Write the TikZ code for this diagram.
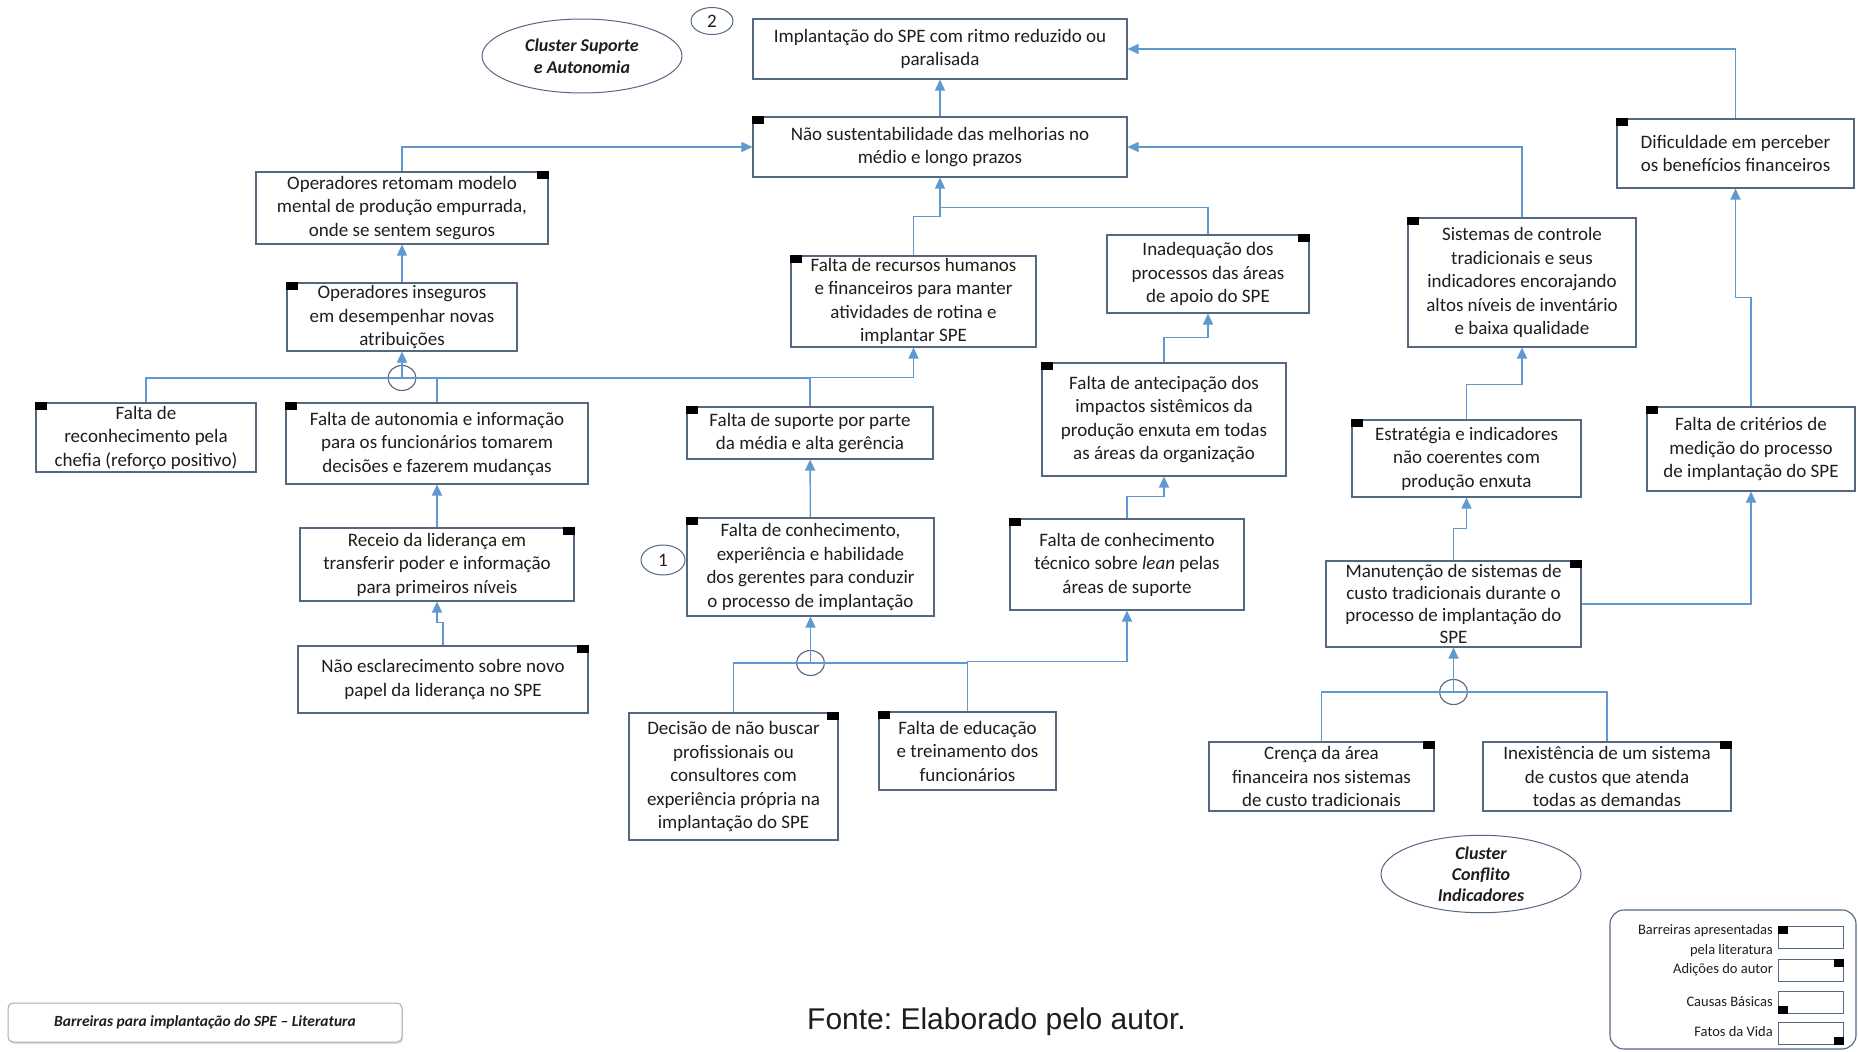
\documentclass[tikz,border=0pt]{standalone}
\usepackage{fontspec}
\setmainfont{Carlito}
\newfontfamily\arialfont{Liberation Sans}
\usetikzlibrary{arrows.meta,shapes.geometric,calc,shadows}
\frenchspacing

\definecolor{boxc}{RGB}{84,104,130}
\definecolor{linec}{RGB}{96,152,208}
\definecolor{txt}{RGB}{30,30,30}

\tikzset{
  box/.style={draw=boxc, line width=1.1pt, fill=white, align=center, inner sep=1pt,
    text=txt, font=\fontsize{19}{23.5}\selectfont},
  conn/.style={draw=linec, line width=1.4pt},
  arr/.style={conn, -{Triangle[length=11pt,width=10pt]}},
  andgate/.style={draw=boxc, line width=1.1pt, ellipse, minimum width=28pt,
    minimum height=25pt, inner sep=0pt},
  cluster/.style={draw=boxc, line width=1pt, ellipse, align=center, inner sep=0pt,
    minimum width=200pt, minimum height=74pt, text=txt,
    font=\bfseries\itshape\fontsize{18}{22}\selectfont},
  numc/.style={draw=boxc, line width=1pt, ellipse, inner sep=0pt, text=txt,
    font=\fontsize{19}{22}\selectfont},
  lgbox/.style={draw=boxc, line width=1pt, minimum width=65pt, minimum height=22pt, inner sep=0pt},
  lgtext/.style={anchor=east, inner sep=0pt, text=txt, font=\fontsize{14.5}{17}\selectfont},
}

% box from its corners (x1,y1)-(x2,y2), y measured downwards
\newcommand{\boxat}[6]{%
  \node[box, minimum width={#4-#2}, minimum height={#5-#3}] (#1)
    at ({(#2+#4)/2},{(#3+#5)/2}) {#6};}
% black corner marks
\newcommand{\marktl}[1]{\fill (#1.north west) rectangle ++(12,8);}
\newcommand{\marktr}[1]{\fill (#1.north east) rectangle ++(-12,8);}

\begin{document}
\begin{tikzpicture}[x=1pt,y=-1pt]
\useasboundingbox (0,0) rectangle (1858,1052);
\fill[white] (0,0) rectangle (1858,1052);

% ---- boxes ----
\boxat{impl}{753}{19}{1127}{79}{Implantação do SPE com ritmo reduzido ou\\paralisada}
\boxat{nsust}{753}{117}{1127}{177}{Não sustentabilidade das melhorias no\\médio e  longo prazos}
\boxat{opret}{256}{172}{548}{244}{Operadores retomam modelo\\mental de produção empurrada,\\onde se sentem  seguros}
\boxat{opins}{287}{283}{517}{351}{Operadores inseguros\\em desempenhar novas\\atribuições}
\boxat{frec}{791}{256}{1036}{347}{Falta de recursos humanos\\e financeiros para manter\\atividades de rotina e\\implantar SPE}
\boxat{inad}{1107}{235}{1309}{313}{Inadequação dos\\processos das áreas\\de apoio do SPE}
\boxat{dific}{1617}{119}{1854}{188}{Dificuldade em perceber\\os benefícios financeiros}
\boxat{sist}{1408}{218}{1636}{347}{Sistemas de controle\\tradicionais e seus\\indicadores encorajando\\altos níveis de inventário\\e baixa qualidade}
\boxat{freco}{36}{403}{256}{472}{Falta de\\reconhecimento  pela\\chefia (reforço positivo)}
\boxat{fauto}{286}{403}{588}{484}{Falta de autonomia e informação\\para os funcionários tomarem\\decisões e fazerem  mudanças}
\boxat{fsup}{687}{407}{933}{459}{Falta de suporte por parte\\da média e alta gerência}
\boxat{fante}{1042}{363}{1286}{476}{Falta de antecipação dos\\impactos sistêmicos da\\produção enxuta em todas\\as áreas da organização}
\boxat{estr}{1352}{420}{1581}{497}{Estratégia e  indicadores\\não coerentes  com\\produção enxuta}
\boxat{fcrit}{1647}{407}{1855}{491}{Falta de critérios de\\medição do processo\\de  implantação do SPE}
\boxat{receio}{300}{528}{574}{601}{Receio da liderança em\\transferir poder e  informação\\para primeiros níveis}
\boxat{fconh}{687}{518}{934}{616}{Falta de conhecimento,\\experiência e habilidade\\dos gerentes  para conduzir\\o processo de implantação}
\boxat{flean}{1010}{519}{1244}{610}{Falta de conhecimento\\técnico sobre \textit{lean} pelas\\áreas de suporte}
\node[box, minimum width=255, minimum height=86, font=\fontsize{19}{22}\selectfont] (manut)
  at (1453.5,604) {Manutenção de sistemas de\\custo tradicionais durante o\\processo de implantação do\\SPE};
\boxat{nesc}{298}{646}{588}{713}{Não esclarecimento sobre novo\\papel da liderança no SPE}
\boxat{decis}{629}{713}{838}{840}{Decisão de não buscar\\profissionais ou\\consultores com\\experiência própria na\\implantação do SPE}
\boxat{feduc}{879}{712}{1056}{790}{Falta de educação\\e treinamento dos\\funcionários}
\boxat{crenca}{1209}{742}{1434}{811}{Crença da área\\financeira nos sistemas\\de  custo tradicionais}
\boxat{inex}{1483}{742}{1731}{811}{Inexistência de um sistema\\de  custos que atenda\\todas as demandas}

% ---- corner marks ----
\marktl{nsust} \marktr{opret} \marktl{opins} \marktl{frec} \marktr{inad}
\marktl{dific} \marktl{sist} \marktl{freco} \marktl{fauto} \marktl{fsup}
\marktl{fante} \marktl{estr} \marktl{fcrit} \marktr{receio} \marktl{fconh}
\marktl{flean} \marktr{manut} \marktr{nesc} \marktr{decis} \marktl{feduc}
\marktr{crenca} \marktr{inex}

% ---- AND junctions ----
\node[andgate] (and1) at (402,378) {};
\node[andgate] (and2) at (810.5,663) {};
\node[andgate] (and3) at (1453.5,692) {};

% ---- connectors ----
\draw[arr] (nsust) -- (impl);
\draw[arr] (opret.north) |- (nsust.west);
\draw[arr] (sist.north) |- (nsust.east);
\draw[arr] (dific.north) |- (impl.east);
\draw[conn] (inad.north) |- ($(nsust.south)+(0,30)$);
\draw[arr] (frec.north) -- ++(0,-39) -| (nsust.south);

\draw[arr] (opins) -- (opret);
\draw[conn] (freco.north) |- (and1.center);
\draw[conn] (and1.center) -| (fsup.north);
\draw[conn] (fauto.north) -- (fauto.north |- and1.center);
\draw[arr] (and1.center) -- (opins.south);
\draw[arr] (fsup.north) -- ++(0,-29) -| (frec.south);

\draw[arr] (fconh) -- (fsup);
\draw[conn] (decis.north) |- (and2.center) -| (feduc.north);
\draw[arr] (and2.center) -- (fconh.south);
\draw[arr] (feduc.north) -- ++(0,-50) -| (flean.south);
\draw[arr] (flean.north) -- ++(0,-22) -| (fante.south);
\draw[arr] (fante.north) -- ++(0,-25) -| (inad.south);

\draw[arr] (receio) -- (fauto);
\draw[arr] (nesc.north) -- ++(0,-23) -| (receio.south);

\draw[arr] (estr.north) -- ++(0,-35) -| (sist.south);
\draw[arr] (manut.north) -- ++(0,-32) -| (estr.south);
\draw[arr] (manut.east) -| (fcrit.south);
\draw[arr] (fcrit.north) -- ++(0,-109) -| (dific.south);
\draw[conn] (crenca.north) |- (and3.center) -| (inex.north);
\draw[arr] (and3.center) -- (manut.south);

% ---- cluster labels and numbers ----
\node[cluster] (clA) at (582,56) {Cluster Suporte\\e Autonomia};
\node[cluster, font=\bfseries\itshape\fontsize{18}{21}\selectfont] (clB) at (1481,874) {Cluster\\Conflito\\Indicadores};
\node[numc, minimum width=42pt, minimum height=27pt] (n2) at (712,21) {2};
\node[numc, minimum width=44pt, minimum height=30pt] (n1) at (663,560) {1};

% ---- legend ----
\node[draw=boxc, line width=1.1pt, rounded corners=14pt, minimum width=246pt,
  minimum height=139pt, inner sep=0pt] (legend) at (1733,979.5) {};
\node[lgbox] (lg1) at (1810.5,937.5) {};
\node[lgbox] (lg2) at (1810.5,970) {};
\node[lgbox] (lg3) at (1810.5,1002) {};
\node[lgbox] (lg4) at (1810.5,1033) {};
\fill (lg1.north west) rectangle ++(10,8);
\fill (lg2.north east) rectangle ++(-10,8);
\fill (lg3.south west) rectangle ++(10,-8);
\fill (lg4.south east) rectangle ++(-10,-8);
\node[lgtext] (lt1) at (1773,931) {Barreiras apresentadas};
\node[lgtext] (lt1b) at (1773,951) {pela literatura};
\node[lgtext] (lt2) at (1773,970) {Adições do autor};
\node[lgtext] (lt3) at (1773,1002) {Causas Básicas};
\node[lgtext] (lt4) at (1773,1032) {Fatos da Vida};

% ---- title and source ----
\node[draw=gray!65, line width=1pt, fill=white, rounded corners=5pt, minimum width=394pt,
  minimum height=39pt, drop shadow={opacity=0.25, shadow xshift=1pt, shadow yshift=-2pt},
  text=txt, font=\bfseries\itshape\fontsize{15.5}{18}\selectfont] (title)
  at (205,1022.5) {Barreiras para implantação do SPE – Literatura};
\node[anchor=west, inner sep=0pt, text=txt, font=\arialfont\fontsize{30}{34}\selectfont]
  (fonte) at (807,1022) {Fonte: Elaborado pelo autor.};
\end{tikzpicture}
\end{document}
